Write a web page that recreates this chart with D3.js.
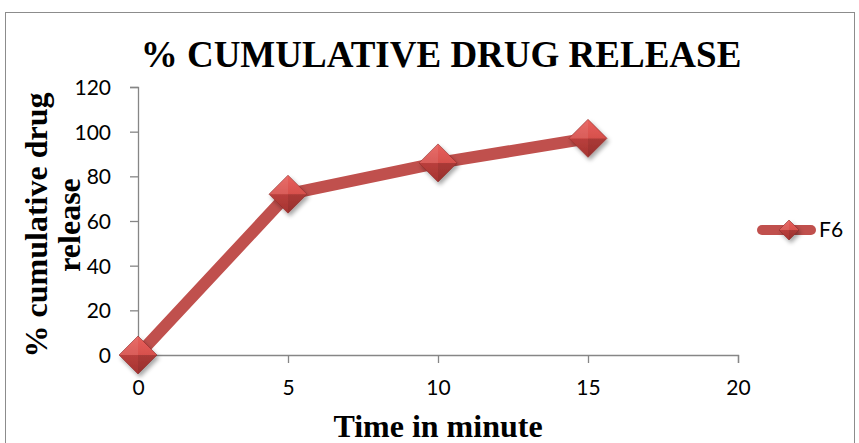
<!DOCTYPE html>
<html>
<head>
<meta charset="utf-8">
<script src="https://cdn.jsdelivr.net/npm/d3@7"></script>
<style>
  body { margin: 0; background: #fff; }
  .tick text { font-family: Lato, "Open Sans", sans-serif; font-size: 21px; fill: #000; }
</style>
</head>
<body>
<div id="chart"></div>
<script>
// data
const times = [0, 5, 10, 15];
const release = [0, 72, 86, 97];
const seriesName = "F6";
const xTicks = [0, 5, 10, 15, 20];
const yTicks = [0, 20, 40, 60, 80, 100, 120];

const W = 859, H = 443;
const svg = d3.select("#chart").append("svg")
    .attr("width", W).attr("height", H);

const defs = svg.append("defs");
let grad = defs.append("linearGradient").attr("id", "dia")
    .attr("x1", 0).attr("y1", 0).attr("x2", 0).attr("y2", 1);
grad.append("stop").attr("offset", "0%").attr("stop-color", "#e8605c");
grad.append("stop").attr("offset", "50%").attr("stop-color", "#d6504c");
grad.append("stop").attr("offset", "51%").attr("stop-color", "#b93f3c");
grad.append("stop").attr("offset", "100%").attr("stop-color", "#a53431");
let sh = defs.append("filter").attr("id", "shadow")
    .attr("x", "-50%").attr("y", "-50%").attr("width", "200%").attr("height", "200%");
sh.append("feDropShadow").attr("dx", 2).attr("dy", 3).attr("stdDeviation", 2)
    .attr("flood-color", "#000").attr("flood-opacity", 0.35);

// outer frame
svg.append("rect")
    .attr("x", 5.5).attr("y", 12.5).attr("width", 849).attr("height", 440)
    .attr("fill", "none").attr("stroke", "#8c8c8c").attr("stroke-width", 1);

const x = d3.scaleLinear().domain([0, 20]).range([138, 738]);
const y = d3.scaleLinear().domain([0, 120]).range([355, 87]);

const axisColor = "#868686";

let gx = svg.append("g").attr("transform", `translate(0, ${y(0)})`)
    .call(d3.axisBottom(x).tickValues(xTicks).tickSize(8).tickPadding(17));
let gy = svg.append("g").attr("transform", `translate(${x(0)}, 0)`)
    .call(d3.axisLeft(y).tickValues(yTicks).tickSize(8).tickPadding(19));
[gx, gy].forEach(g => {
    g.select(".domain").attr("stroke", axisColor).attr("stroke-width", 1.3);
    g.selectAll(".tick line").attr("stroke", axisColor).attr("stroke-width", 1.3);
});
gy.selectAll(".tick text").attr("dy", "0.35em");

// title
svg.append("text")
    .attr("x", 441).attr("y", 67)
    .attr("text-anchor", "middle")
    .attr("font-family", "Liberation Serif, Times New Roman, serif")
    .attr("font-weight", "bold").attr("font-size", 37)
    .text("% CUMULATIVE DRUG RELEASE");

// axis titles
svg.append("text")
    .attr("x", 438).attr("y", 437)
    .attr("text-anchor", "middle")
    .attr("font-family", "Liberation Serif, Times New Roman, serif")
    .attr("font-weight", "bold").attr("font-size", 32)
    .text("Time in minute");

let yt = svg.append("text")
    .attr("transform", "translate(47, 225) rotate(-90)")
    .attr("text-anchor", "middle")
    .attr("font-family", "Liberation Serif, Times New Roman, serif")
    .attr("font-weight", "bold").attr("font-size", 32);
yt.append("tspan").attr("x", 0).attr("y", 0).text("% cumulative drug");
yt.append("tspan").attr("x", 0).attr("y", 33).text("release");

// series
const pts = times.map((t, i) => [t, release[i]]);
svg.append("path")
    .datum(pts)
    .attr("fill", "none")
    .attr("stroke", "#c0504d")
    .attr("stroke-width", 12)
    .attr("stroke-linejoin", "round")
    .attr("d", d3.line().x(d => x(d[0])).y(d => y(d[1])));

function diamond(g, cx, cy, r) {
    let m = g.append("g").attr("transform", `translate(${cx}, ${cy})`).attr("filter", "url(#shadow)");
    m.append("path")
        .attr("d", `M0,${-r} L${r},0 L0,${r} L${-r},0 Z`)
        .attr("fill", "url(#dia)").attr("stroke", "#8e2a28").attr("stroke-width", 0.6);
    m.append("path")
        .attr("d", `M0,${-r} L0,0 L${-r},0 Z`).attr("fill", "#ffffff").attr("opacity", 0.08);
    m.append("path")
        .attr("d", `M0,${r} L0,0 L${r},0 Z`).attr("fill", "#000000").attr("opacity", 0.08);
}

const marks = svg.append("g");
pts.forEach(d => diamond(marks, x(d[0]), y(d[1]), 19));

// legend
const lg = svg.append("g");
lg.append("line")
    .attr("x1", 762).attr("x2", 811).attr("y1", 230).attr("y2", 230)
    .attr("stroke", "#c0504d").attr("stroke-width", 10).attr("stroke-linecap", "round");
diamond(lg, 789, 230, 10);
lg.append("text")
    .attr("x", 819).attr("y", 237)
    .attr("font-family", "Lato, Open Sans, sans-serif").attr("font-size", 21)
    .text(seriesName);
</script>
</body>
</html>
